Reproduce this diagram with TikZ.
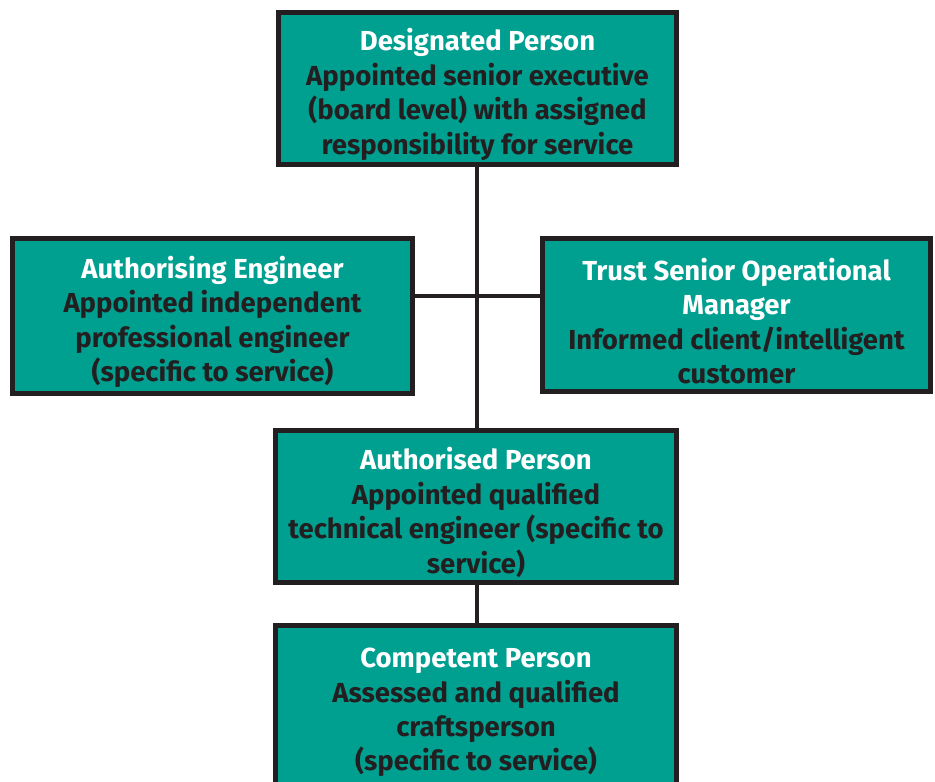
\documentclass[tikz,border=0pt]{standalone}
\usepackage{fontspec}
\setmainfont{Fira Sans}
\usepackage{tikz}
\usetikzlibrary{positioning}
\definecolor{boxteal}{RGB}{0,160,145}
\definecolor{ink}{RGB}{35,31,32}
\newcommand{\roletitle}[1]{{\color{white}#1}}
\newcommand{\toptitle}[1]{\rule{0pt}{34pt}\roletitle{#1}}

\begin{document}
\begin{tikzpicture}[x=1pt,y=1pt,
  role/.style={draw=ink,line width=4.5pt,fill=boxteal,text=ink,align=center,
               inner sep=0pt,font=\fontsize{27.5}{34.5}\selectfont\bfseries},
  link/.style={draw=ink,line width=4.5pt}]
\useasboundingbox (0,0) rectangle (935,782);
\clip (0,0) rectangle (935,782);
% boxes
\node[role,minimum width=398,minimum height=152] (dp) at (477.5,693.5)
  {\toptitle{Designated Person}\\Appointed senior executive\\(board level) with assigned\\responsibility for service};
\node[role,minimum width=400,minimum height=155] (ae) at (212.5,466)
  {\toptitle{Authorising Engineer}\\Appointed independent\\professional engineer\\(specific to service)};
\node[role,minimum width=388,minimum height=153] (tsom) at (736.5,467)
  {\toptitle{Trust Senior Operational}\\\roletitle{Manager}\\Informed client/intelligent\\customer};
\node[role,minimum width=401,minimum height=152] (ap) at (476,275.5)
  {\toptitle{Authorised Person}\\Appointed qualified\\technical engineer (specific to\\service)};
% bottom box runs off the page
\node[role,minimum width=401,minimum height=187.5,anchor=north] (cp) at (476,158.5)
  {\toptitle{Competent Person}\\Assessed and qualified\\craftsperson\\(specific to service)\\\mbox{}};
% lines
\coordinate (hub) at (477,486);
\draw[link] (dp.south -| hub) -- (ap.north -| hub);
\draw[link] (ae.east |- hub) -- (tsom.west |- hub);
\draw[link] (ap.south -| hub) -- (cp.north -| hub);
\end{tikzpicture}
\end{document}
